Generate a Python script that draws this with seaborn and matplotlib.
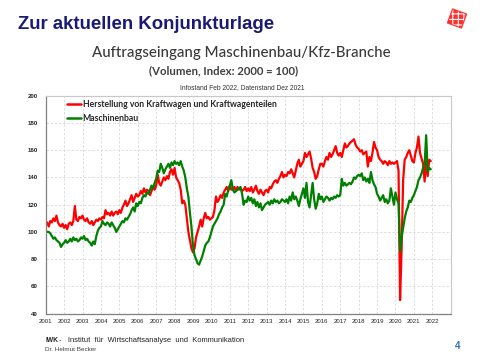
import numpy as np
import pandas as pd
import matplotlib
matplotlib.use("Agg")
import matplotlib.pyplot as plt
import seaborn as sns
from matplotlib.patches import Rectangle
from matplotlib.lines import Line2D

# Monatswerte Jan 2001 - Dez 2021 (Index 2000 = 100), je Zeile ein Jahr
kfz = [
    105, 107, 104, 108, 107, 110, 108, 112, 107, 105, 104, 106,  # 2001
    103, 105, 102, 106, 107, 105, 108, 119, 109, 108, 111, 110,  # 2002
    112, 109, 108, 110, 107, 106, 108, 105, 107, 109, 108, 110,  # 2003
    109, 111, 110, 116, 113, 114, 112, 115, 112, 114, 115, 113,  # 2004
    116, 114, 118, 120, 123, 119, 121, 124, 127, 122, 125, 128,  # 2005
    126, 127, 130, 128, 132, 129, 131, 130, 127, 130, 133, 131,  # 2006
    134, 142, 136, 134, 137, 140, 138, 141, 139, 144, 146, 142,  # 2007
    147, 140, 138, 136, 131, 121, 123, 120, 110, 100, 94, 88,    # 2008
    85, 88, 96, 100, 104, 109, 104, 110, 114, 110, 111, 109,     # 2009
    110, 111, 116, 126, 122, 124, 127, 125, 129, 131, 133, 130,  # 2010
    134, 131, 132, 133, 130, 133, 131, 132, 130, 131, 133, 130,  # 2011
    132, 130, 133, 129, 131, 134, 130, 128, 131, 129, 127, 130,  # 2012
    131, 129, 133, 132, 135, 137, 138, 136, 139, 141, 144, 140,  # 2013
    142, 141, 144, 143, 146, 143, 140, 145, 150, 153, 148, 150,  # 2014
    152, 158, 155, 157, 159, 154, 147, 144, 139, 141, 146, 150,  # 2015
    150, 148, 152, 155, 153, 158, 155, 157, 160, 163, 158, 156,  # 2016
    158, 155, 160, 165, 162, 163, 165, 166, 167, 168, 164, 162,  # 2017
    161, 159, 160, 157, 158, 159, 148, 155, 152, 158, 166, 162,  # 2018
    160, 155, 153, 152, 150, 152, 151, 149, 152, 150, 151, 150,  # 2019
    151, 152, 145, 50, 88, 138, 153, 155, 158, 160, 156, 152,    # 2020
    151, 158, 162, 170, 158, 154, 150, 137, 152, 141, 153, 152,  # 2021
]

maschinenbau = [
    101, 100, 100, 99, 97, 95, 96, 94, 93, 92, 89, 91,           # 2001
    92, 94, 92, 93, 95, 93, 96, 94, 95, 93, 94, 96,              # 2002
    95, 97, 94, 95, 93, 92, 90, 93, 91, 97, 101, 103,            # 2003
    104, 108, 106, 105, 107, 106, 104, 107, 105, 103, 100, 102,  # 2004
    104, 106, 108, 107, 110, 109, 111, 113, 116, 118, 115, 121,  # 2005
    119, 122, 121, 125, 127, 126, 129, 128, 131, 134, 132, 136,  # 2006
    139, 145, 144, 150, 147, 143, 146, 148, 150, 147, 151, 149,  # 2007
    152, 150, 151, 149, 152, 148, 145, 140, 132, 126, 114, 104,  # 2008
    90, 83, 80, 77, 76, 79, 82, 86, 90, 92, 93, 96,              # 2009
    100, 104, 106, 108, 110, 113, 115, 118, 120, 128, 126, 131,  # 2010
    134, 138, 131, 129, 130, 131, 132, 133, 128, 120, 123, 122,  # 2011
    126, 123, 125, 121, 124, 119, 122, 118, 121, 116, 118, 120,  # 2012
    121, 122, 120, 123, 121, 124, 122, 123, 121, 122, 124, 123,  # 2013
    122, 124, 121, 126, 123, 129, 124, 126, 123, 119, 124, 128,  # 2014
    132, 125, 136, 122, 118, 127, 136, 124, 117, 121, 128, 124,  # 2015
    126, 122, 124, 126, 125, 123, 125, 124, 126, 125, 127, 126,  # 2016
    127, 139, 134, 136, 134, 135, 136, 135, 137, 140, 139, 141,  # 2017
    142, 141, 143, 138, 140, 137, 139, 136, 144, 138, 135, 133,  # 2018
    128, 126, 123, 125, 127, 122, 124, 121, 123, 132, 126, 120,  # 2019
    129, 124, 121, 86, 96, 103, 110, 115, 118, 123, 122, 125,    # 2020
    127, 130, 133, 138, 140, 143, 147, 150, 171, 144, 147, 146,  # 2021
]

label_kfz = "Herstellung von Kraftwagen und Kraftwagenteilen"
label_mb = "Maschinenbau"
year_ticks = list(range(2001, 2024))
year_labels = [str(y) for y in range(2001, 2023)] + [""]
y_ticks = list(range(40, 201, 20))

# Zeitachse als Dezimaljahr
t = 2001 + np.arange(len(kfz)) / 12
df = pd.DataFrame({
    "Jahr": np.concatenate([t, t]),
    "Index": kfz + maschinenbau,
    "Reihe": [label_kfz] * len(kfz) + [label_mb] * len(maschinenbau),
})

sns.set_style("white")
colors = {label_kfz: "#FF0000", label_mb: "#008000"}

W, H = 480, 360
fig = plt.figure(figsize=(4.8, 3.6), dpi=100)
fig.patch.set_facecolor("white")
ax = fig.add_axes([45.7 / W, 1 - 313.7 / H, 405 / W, 218 / H])

sns.lineplot(data=df, x="Jahr", y="Index", hue="Reihe", palette=colors,
             linewidth=1.6, legend=False, ax=ax, estimator=None)

ax.set_xlim(2001, 2023)
ax.set_ylim(40, 200)
ax.set_xticks(year_ticks)
ax.set_xticklabels(year_labels, fontsize=4.3, family="Liberation Sans", color="#222222")
ax.set_yticks(y_ticks)
ax.set_yticklabels([str(v) for v in y_ticks], fontsize=4.4, family="Liberation Sans",
                   weight="bold", color="#222222")
ax.set_xlabel("")
ax.set_ylabel("")
ax.tick_params(axis="x", length=3, width=0.7, color="#808080", pad=1)
ax.tick_params(axis="y", length=4, width=0.7, color="#808080", pad=1.5)
ax.grid(True, color="#D9D9D9", linestyle=(0, (3, 2)), linewidth=0.6)
ax.set_axisbelow(True)
for side in ["left", "bottom"]:
    ax.spines[side].set_color("#808080")
    ax.spines[side].set_linewidth(0.9)
for side in ["top", "right"]:
    ax.spines[side].set_color("#C8C8C8")
    ax.spines[side].set_linewidth(0.8)

handles = [Line2D([], [], color=colors[label_kfz], lw=1.8),
           Line2D([], [], color=colors[label_mb], lw=1.8)]
ax.legend(handles, [label_kfz, label_mb], loc="upper left",
          bbox_to_anchor=(21 / 405, 0.978), frameon=False, borderpad=0,
          borderaxespad=0, handlelength=1.7, handletextpad=0.15,
          labelspacing=0.5, prop={"family": "Lato", "weight": "bold", "size": 6.2})

# Folientexte
fig.text(18 / W, 1 - 29.3 / H, "Zur aktuellen Konjunkturlage", fontsize=13.4,
         weight="bold", color="#1A1A75", family="Liberation Sans", va="baseline")
fig.text(241 / W, 1 - 57.3 / H, "Auftragseingang Maschinenbau/Kfz-Branche",
         fontsize=10.8, weight="medium", color="#3A3A3A", family="Lato",
         ha="center", va="baseline")
fig.text(224 / W, 1 - 74 / H, "(Volumen, Index: 2000 = 100)", fontsize=8.2,
         weight="bold", color="#404040", family="Lato", ha="center", va="baseline")
fig.text(242 / W, 1 - 89 / H, "Infostand Feb 2022, Datenstand Dez 2021", fontsize=4.8,
         color="#333333", family="Liberation Sans", ha="center", va="baseline")
fig.text(45 / W, 1 - 341.7 / H, "IWK", fontsize=4.8, weight="bold", color="#222222",
         family="Liberation Sans", va="baseline")
fig.text(59 / W, 1 - 341.7 / H,
         "-   Institut  für  Wirtschaftsanalyse  und  Kommunikation",
         fontsize=5.4, color="#222222", family="Liberation Sans", va="baseline")
fig.text(45 / W, 1 - 351 / H, "Dr. Helmut Becker", fontsize=4.6, color="#404040",
         family="Liberation Sans", va="baseline")
fig.text(455 / W, 1 - 349 / H, "4", fontsize=7, weight="bold", color="#2E6EB5",
         family="Liberation Sans", va="baseline")

# Logo oben rechts
plt.rcParams["hatch.linewidth"] = 0.8
cx, cy, s = 4.57, (H - 18.5) / 100, 0.15
fig.patches.append(Rectangle((cx - s / 2, cy - s / 2), s, s, angle=-20,
                             rotation_point="center", facecolor="#FF3030",
                             edgecolor="none", transform=fig.dpi_scale_trans))
fig.patches.append(Rectangle((cx - s / 2, cy - s / 2), s, s, angle=-20,
                             rotation_point="center", facecolor="none",
                             edgecolor="white", hatch="+++", linewidth=0,
                             transform=fig.dpi_scale_trans))
fig.patches.append(Rectangle((cx - s / 2, cy - s / 2), s, s, angle=-20,
                             rotation_point="center", facecolor="none",
                             edgecolor="#FF3030", linewidth=0.8,
                             transform=fig.dpi_scale_trans))

fig.savefig("out.png", dpi=100)
